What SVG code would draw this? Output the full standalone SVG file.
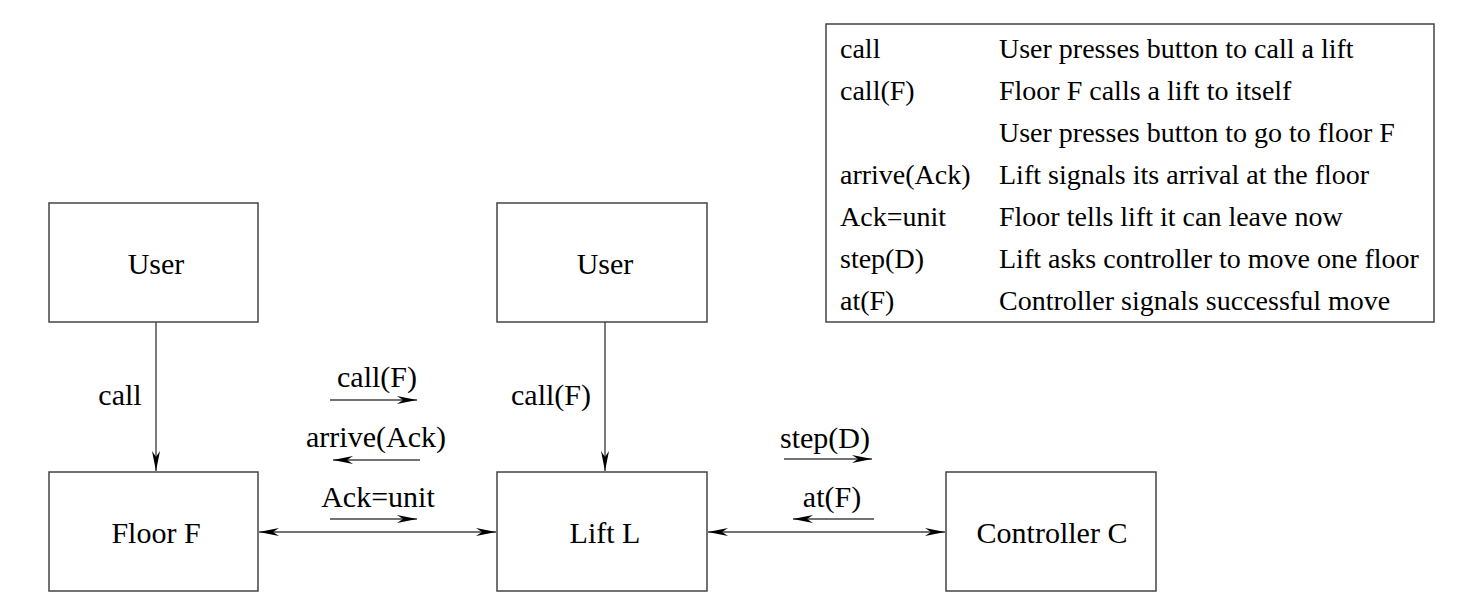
<svg xmlns="http://www.w3.org/2000/svg" width="1476" height="615" viewBox="0 0 1476 615">
<style>
  .box { fill: #fff; stroke: #444; stroke-width: 1.5; }
  .line { stroke: #444; stroke-width: 1.4; fill: none; }
  .lbl { font-family: "Liberation Serif", "Times New Roman", serif; font-size: 30px; fill: #000; }
  .node { text-anchor: middle; }
  .leg { font-family: "Liberation Serif", "Times New Roman", serif; font-size: 28px; fill: #000; }
</style>
<defs>
  <marker id="ah" viewBox="-21 -5 22 10" refX="0" refY="0" markerWidth="22" markerHeight="10" markerUnits="userSpaceOnUse" orient="auto-start-reverse">
    <path d="M0,0 L-20,-4 L-14,0 L-20,4 Z" fill="#000"/>
  </marker>
</defs>
<rect width="1476" height="615" fill="#fff"/>

<g id="user1">
  <rect class="box" x="49" y="203" width="209" height="119"/>
  <text class="lbl node" x="156" y="274">User</text>
</g>
<g id="floor">
  <rect class="box" x="49" y="472" width="209" height="119"/>
  <text class="lbl node" x="156" y="543">Floor F</text>
</g>
<g id="user2">
  <rect class="box" x="497" y="203" width="210" height="119"/>
  <text class="lbl node" x="605" y="274">User</text>
</g>
<g id="lift">
  <rect class="box" x="497" y="472" width="210" height="119"/>
  <text class="lbl node" x="605" y="543">Lift L</text>
</g>
<g id="controller">
  <rect class="box" x="946" y="472" width="210" height="119"/>
  <text class="lbl node" x="1052" y="543">Controller C</text>
</g>

<g id="legend">
  <rect class="box" x="826" y="24" width="608" height="298"/>
  <text class="leg" x="840" y="58">call</text>
  <text class="leg" x="999" y="58">User presses button to call a lift</text>
  <text class="leg" x="840" y="100">call(F)</text>
  <text class="leg" x="999" y="100">Floor F calls a lift to itself</text>
  <text class="leg" x="999" y="142">User presses button to go to floor F</text>
  <text class="leg" x="840" y="184">arrive(Ack)</text>
  <text class="leg" x="999" y="184">Lift signals its arrival at the floor</text>
  <text class="leg" x="840" y="226">Ack=unit</text>
  <text class="leg" x="999" y="226">Floor tells lift it can leave now</text>
  <text class="leg" x="840" y="268">step(D)</text>
  <text class="leg" x="999" y="268">Lift asks controller to move one floor</text>
  <text class="leg" x="840" y="310">at(F)</text>
  <text class="leg" x="999" y="310">Controller signals successful move</text>
</g>

<g id="connectors">
  <line class="line" x1="156" y1="322" x2="156" y2="471" marker-end="url(#ah)"/>
  <line class="line" x1="605" y1="322" x2="605" y2="471" marker-end="url(#ah)"/>
  <line class="line" x1="259" y1="532" x2="496" y2="532" marker-start="url(#ah)" marker-end="url(#ah)"/>
  <line class="line" x1="708" y1="532" x2="945" y2="532" marker-start="url(#ah)" marker-end="url(#ah)"/>
  <line class="line" x1="330" y1="400" x2="417" y2="400" marker-end="url(#ah)"/>
  <line class="line" x1="420" y1="460" x2="333" y2="460" marker-end="url(#ah)"/>
  <line class="line" x1="330" y1="519" x2="417" y2="519" marker-end="url(#ah)"/>
  <line class="line" x1="784" y1="459" x2="872" y2="459" marker-end="url(#ah)"/>
  <line class="line" x1="874" y1="519" x2="793" y2="519" marker-end="url(#ah)"/>
  <text class="lbl node" x="120" y="405">call</text>
  <text class="lbl node" x="551" y="405">call(F)</text>
  <text class="lbl node" x="377" y="387">call(F)</text>
  <text class="lbl node" x="376" y="447">arrive(Ack)</text>
  <text class="lbl node" x="378" y="507">Ack=unit</text>
  <text class="lbl node" x="825" y="448">step(D)</text>
  <text class="lbl node" x="832" y="507">at(F)</text>
</g>
</svg>
